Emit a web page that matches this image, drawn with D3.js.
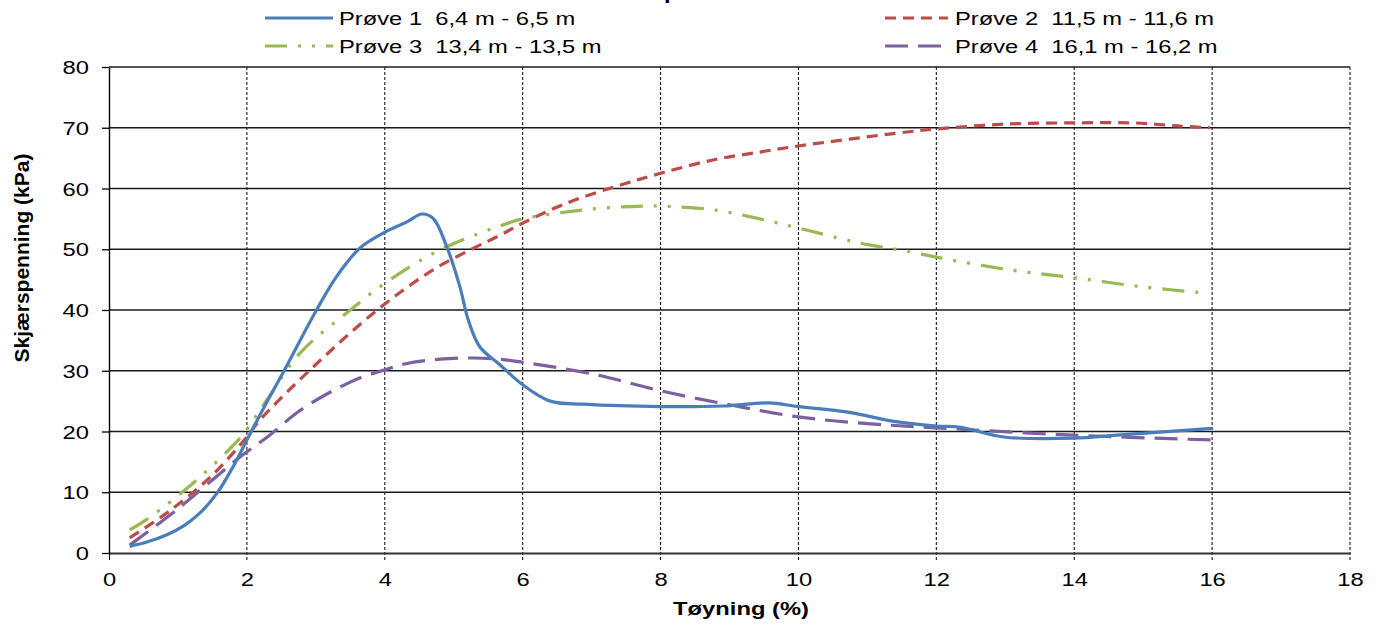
<!DOCTYPE html>
<html>
<head>
<meta charset="utf-8">
<script src="https://cdn.jsdelivr.net/npm/d3@7"></script>
<style>
  html, body { margin: 0; padding: 0; background: #fff; }
  svg { display: block; font-family: "Liberation Sans", Arial, sans-serif; }
  text { white-space: pre; }
</style>
</head>
<body>
<svg id="chart" width="1381" height="627"></svg>
<script>
// Strain (%) vs. shear stress (kPa) for four samples
const xTicks = [0, 2, 4, 6, 8, 10, 12, 14, 16, 18];
const yTicks = [0, 10, 20, 30, 40, 50, 60, 70, 80];

const seriesNames = [
  "Prøve 1  6,4 m - 6,5 m",
  "Prøve 2  11,5 m - 11,6 m",
  "Prøve 3  13,4 m - 13,5 m",
  "Prøve 4  16,1 m - 16,2 m"
];

const p1X = [0.3, 0.55, 0.84, 1.1, 1.32, 1.57, 1.8, 2.0, 2.25, 2.53, 3.01, 3.3, 3.64, 4.0, 4.32, 4.54, 4.7, 4.9, 5.09, 5.21, 5.38, 5.67, 6.0, 6.4, 6.89, 8.0, 8.92, 9.57, 10.0, 10.72, 11.36, 12.0, 12.35, 12.98, 14.0, 14.62, 16.0];
const p1Y = [1.1, 1.8, 3.0, 4.6, 6.6, 9.9, 14.2, 18.6, 24.0, 29.8, 40.0, 45.5, 50.2, 52.8, 54.5, 55.8, 55.1, 50.4, 43.8, 38.4, 33.9, 31.0, 27.7, 25.0, 24.5, 24.1, 24.2, 24.7, 24.1, 23.2, 21.7, 20.9, 20.7, 19.1, 18.9, 19.4, 20.5];

const p2X = [0.3, 0.84, 1.47, 2.0, 2.19, 2.96, 3.89, 4.7, 5.24, 5.67, 6.0, 6.64, 7.37, 8.0, 8.76, 9.44, 10.0, 11.57, 12.0, 13.0, 14.0, 14.85, 15.5, 15.97];
const p2Y = [2.5, 6.6, 12.5, 19.1, 21.9, 30.6, 40.0, 46.6, 49.9, 52.3, 54.3, 57.6, 60.4, 62.5, 64.7, 66.0, 67.0, 69.3, 69.8, 70.6, 70.8, 70.8, 70.3, 70.0];

const p3X = [0.3, 0.57, 1.27, 1.9, 2.02, 2.29, 2.77, 3.5, 4.0, 4.8, 5.79, 6.0, 6.98, 7.75, 8.0, 8.76, 9.44, 10.0, 10.9, 11.62, 12.0, 13.07, 14.01, 15.0, 15.9];
const p3Y = [3.8, 5.7, 12.0, 18.9, 20.7, 25.2, 32.9, 40.0, 44.4, 49.9, 54.3, 55.0, 56.6, 57.1, 57.1, 56.5, 55.0, 53.5, 51.0, 49.6, 48.7, 46.6, 45.3, 43.8, 42.8];

const p4X = [0.3, 0.98, 1.9, 2.33, 2.74, 3.18, 3.68, 3.99, 4.32, 4.8, 5.28, 5.67, 6.0, 7.0, 8.0, 9.0, 10.0, 11.0, 12.0, 14.0, 16.0];
const p4Y = [1.3, 7.1, 15.8, 19.4, 23.2, 26.3, 29.0, 30.1, 31.2, 31.9, 32.1, 31.9, 31.4, 29.5, 26.7, 24.4, 22.4, 21.3, 20.6, 19.4, 18.6];

const colors = ["#4A7EBB", "#BE4B48", "#98B954", "#7D60A0"];
const dashes = [null, "11,7", "22,11,3,11,3,11", "23,10"];

const series = [
  { name: seriesNames[0], xs: p1X, ys: p1Y },
  { name: seriesNames[1], xs: p2X, ys: p2Y },
  { name: seriesNames[2], xs: p3X, ys: p3Y },
  { name: seriesNames[3], xs: p4X, ys: p4Y }
];

const svg = d3.select("#chart");
const plot = { left: 109, right: 1350, top: 67, bottom: 553 };
const SX = 1.32; // horizontal stretch of the lettering

const x = d3.scaleLinear().domain([0, 18]).range([plot.left, plot.right]);
const y = d3.scaleLinear().domain([0, 80]).range([plot.bottom, plot.top]);

function stretchedText(g, tx, ty, str, anchor) {
  return g.append("text")
    .attr("transform", `translate(${tx},${ty}) scale(${SX},1)`)
    .attr("text-anchor", anchor || "start")
    .text(str);
}

// title (sits above the top edge)
stretchedText(svg, 676, -1, "Alle prøver", "middle")
  .attr("font-size", 18).attr("font-weight", "bold").attr("fill", "#000");

// horizontal gridlines
svg.append("g").selectAll("line")
  .data(yTicks.filter(d => d > 0))
  .join("line")
  .attr("x1", plot.left).attr("x2", plot.right)
  .attr("y1", d => y(d)).attr("y2", d => y(d))
  .attr("stroke", "#1a1a1a").attr("stroke-width", 1.3);

// vertical dashed gridlines, running past the axis as ticks
svg.append("g").selectAll("line")
  .data(xTicks.filter(d => d > 0))
  .join("line")
  .attr("x1", d => x(d)).attr("x2", d => x(d))
  .attr("y1", plot.top).attr("y2", plot.bottom + 7)
  .attr("stroke", "#1a1a1a").attr("stroke-width", 1.1)
  .attr("stroke-dasharray", "3,2");

// y axis
const yAxis = svg.append("g")
  .attr("transform", `translate(${plot.left},0)`)
  .call(d3.axisLeft(y).tickValues(yTicks).tickSize(7).tickSizeOuter(0).tickFormat(d3.format("d")));
yAxis.select(".domain").attr("stroke", "#000").attr("stroke-width", 1.4);
yAxis.selectAll(".tick line").attr("stroke", "#000").attr("stroke-width", 1.3);
yAxis.selectAll(".tick text")
  .attr("x", null).attr("dy", null)
  .attr("transform", `translate(-20,6.5) scale(${SX},1)`)
  .attr("text-anchor", "end")
  .attr("font-size", 18).attr("fill", "#000");

// x axis
const xAxis = svg.append("g")
  .attr("transform", `translate(0,${plot.bottom})`)
  .call(d3.axisBottom(x).tickValues(xTicks).tickSize(7).tickSizeOuter(0).tickFormat(d3.format("d")));
xAxis.select(".domain").attr("stroke", "#333").attr("stroke-width", 2);
xAxis.selectAll(".tick line").attr("stroke", d => d === 0 ? "#000" : "none");
xAxis.selectAll(".tick text")
  .attr("y", null).attr("dy", null)
  .attr("transform", `translate(0,33) scale(${SX},1)`)
  .attr("font-size", 18).attr("fill", "#000");
svg.selectAll(".tick text").attr("font-family", "Liberation Sans, Arial, sans-serif");

// axis titles
stretchedText(svg, 741, 615, "Tøyning (%)", "middle")
  .attr("font-size", 18).attr("font-weight", "bold");
svg.append("text")
  .attr("transform", "translate(29,258) rotate(-90)")
  .attr("text-anchor", "middle")
  .attr("font-size", 21).attr("font-weight", "bold")
  .text("Skjærspenning (kPa)");

// curves
const line = d3.line()
  .x(d => x(d[0])).y(d => y(d[1]))
  .curve(d3.curveCatmullRom.alpha(0.5));

const drawOrder = [3, 1, 2, 0];
svg.append("g").selectAll("path")
  .data(drawOrder)
  .join("path")
  .attr("d", i => line(series[i].xs.map((v, k) => [v, series[i].ys[k]])))
  .attr("fill", "none")
  .attr("stroke", i => colors[i])
  .attr("stroke-width", 3.2)
  .attr("stroke-dasharray", i => dashes[i]);

// legend
const legendPos = [
  { lx1: 265, lx2: 333, tx: 339, y: 18 },
  { lx1: 885, lx2: 948, tx: 955, y: 18 },
  { lx1: 265, lx2: 333, tx: 339, y: 46 },
  { lx1: 885, lx2: 948, tx: 955, y: 46 }
];
const legend = svg.append("g");
series.forEach((s, i) => {
  const p = legendPos[i];
  legend.append("line")
    .attr("x1", p.lx1).attr("x2", p.lx2).attr("y1", p.y).attr("y2", p.y)
    .attr("stroke", colors[i]).attr("stroke-width", 3.2)
    .attr("stroke-dasharray", dashes[i]);
  stretchedText(legend, p.tx, p.y + 6.5, s.name, "start")
    .attr("font-size", 18).attr("fill", "#000");
});
</script>
</body>
</html>
